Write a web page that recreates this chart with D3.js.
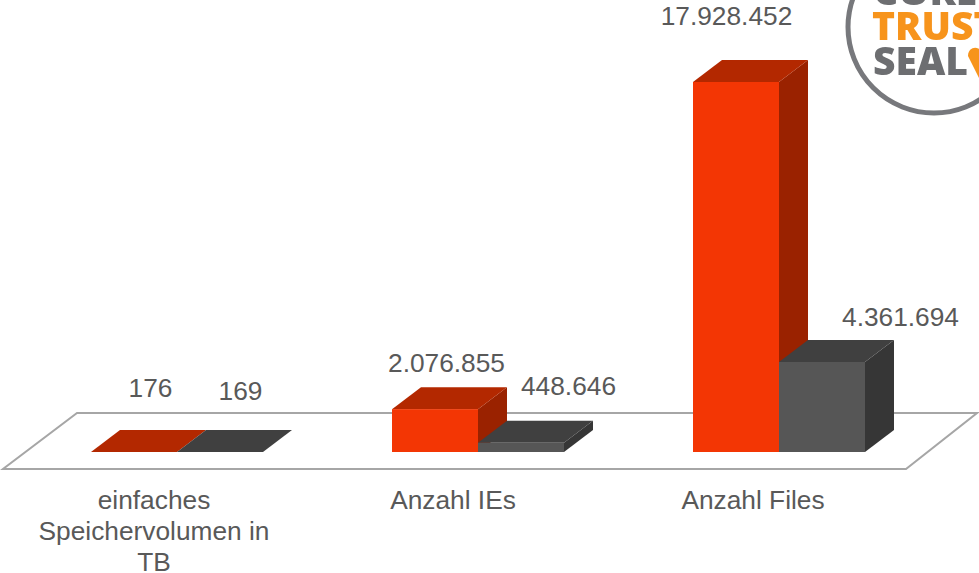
<!DOCTYPE html>
<html>
<head>
<meta charset="utf-8">
<script src="https://cdn.jsdelivr.net/npm/d3@7"></script>
<style>
  html, body { margin: 0; padding: 0; background: #fff; overflow: hidden; }
  text { font-family: "Liberation Sans", Arial, sans-serif; font-size: 26.3px; fill: #595959; }
  .logo text { font-family: "Open Sans", sans-serif; font-weight: 800; font-size: 39px; }
</style>
</head>
<body>
<svg id="plot" width="979" height="573"></svg>
<script>
var categories = ['einfaches Speichervolumen in TB', 'Anzahl IEs', 'Anzahl Files'];
var seriesNames = ['rot', 'grau'];
var rotValues = [176, 2076855, 17928452];
var grauValues = [169, 448646, 4361694];
var rotLabels = ['176', '2.076.855', '17.928.452'];
var grauLabels = ['169', '448.646', '4.361.694'];
var categoryLines = [['einfaches', 'Speichervolumen in', 'TB'], ['Anzahl IEs'], ['Anzahl Files']];

var width = 979, height = 573;
var baseline = 452;
var depthX = 29, depthY = 22;

var colors = {
  rot: { front: '#f33604', top: '#b32800', side: '#9a2200' },
  grau: { front: '#565656', top: '#404040', side: '#363636' }
};

var svg = d3.select('#plot');

var x = d3.scaleBand()
  .domain(categories)
  .range([26.5, 929.5])
  .paddingInner(129 / 301)
  .paddingOuter(129 / 602);

var xInner = d3.scaleBand()
  .domain(seriesNames)
  .range([0, x.bandwidth()]);

var y = d3.scaleLinear()
  .domain([0, 17928452])
  .range([baseline, 82]);

// floor of the 3D chart
svg.append('polygon')
  .attr('points', '3,469 906,469 977,413 77,413')
  .attr('fill', 'none')
  .attr('stroke', '#a6a6a6')
  .attr('stroke-width', 2);

function drawBar(name, values) {
  var g = svg.append('g').attr('class', 'series-' + name);
  var c = colors[name];
  var w = xInner.bandwidth();

  var bars = g.selectAll('g')
    .data(values)
    .enter()
    .append('g');

  // side
  bars.append('path')
    .attr('fill', c.side)
    .attr('d', function (d, i) {
      var x1 = x(categories[i]) + xInner(name) + w;
      return 'M' + x1 + ',' + y(d) + 'L' + (x1 + depthX) + ',' + (y(d) - depthY) +
        'L' + (x1 + depthX) + ',' + (baseline - depthY) + 'L' + x1 + ',' + baseline + 'Z';
    });

  // top
  bars.append('path')
    .attr('fill', c.top)
    .attr('d', function (d, i) {
      var x0 = x(categories[i]) + xInner(name);
      return 'M' + x0 + ',' + y(d) + 'L' + (x0 + depthX) + ',' + (y(d) - depthY) +
        'L' + (x0 + w + depthX) + ',' + (y(d) - depthY) + 'L' + (x0 + w) + ',' + y(d) + 'Z';
    });

  // front
  bars.append('rect')
    .attr('fill', c.front)
    .attr('x', function (d, i) { return x(categories[i]) + xInner(name); })
    .attr('y', function (d) { return y(d); })
    .attr('width', w)
    .attr('height', function (d) { return baseline - y(d); });
}

drawBar('rot', rotValues);
drawBar('grau', grauValues);

// data labels were moved by hand in the original, so each has its own nudge
var rotNudge = [[2, -33], [-3, -15], [-24, -35]];
var grauNudge = [[6, -30], [33, -26], [64, -14]];

function drawLabels(name, values, labels, nudge) {
  svg.selectAll('text.label-' + name)
    .data(values)
    .enter()
    .append('text')
    .attr('class', 'label-' + name)
    .attr('text-anchor', 'middle')
    .attr('x', function (d, i) {
      return x(categories[i]) + xInner(name) + xInner.bandwidth() / 2 + depthX / 2 + nudge[i][0];
    })
    .attr('y', function (d, i) { return y(d) - depthY + nudge[i][1]; })
    .text(function (d, i) { return labels[i]; });
}

drawLabels('rot', rotValues, rotLabels, rotNudge);
drawLabels('grau', grauValues, grauLabels, grauNudge);

// category labels, wrapped as in the original
var categoryNudge = [-23, -25, -26];
categories.forEach(function (cat, i) {
  categoryLines[i].forEach(function (line, j) {
    svg.append('text')
      .attr('text-anchor', 'middle')
      .attr('x', x(cat) + x.bandwidth() / 2 + categoryNudge[i])
      .attr('y', 509 + j * 31)
      .text(line);
  });
});

// seal in the top right corner, cut off by the page edge
svg.append('filter').attr('id', 'soft')
  .append('feGaussianBlur').attr('stdDeviation', 0.6);

var logo = svg.append('g').attr('class', 'logo').attr('filter', 'url(#soft)');
logo.append('circle')
  .attr('cx', 934).attr('cy', 27).attr('r', 86)
  .attr('fill', 'none').attr('stroke', '#77787b').attr('stroke-width', 5);
logo.append('text').attr('x', 873).attr('y', 5).style('fill', '#6d6e71').text('CORE');
logo.append('text').attr('x', 872).attr('y', 40).style('fill', '#f7941d').text('TRUST');
logo.append('text').attr('x', 873).attr('y', 75).style('fill', '#6d6e71').text('SEAL');
logo.append('path')
  .attr('d', 'M968,56 C968,47 978,45 982,52 L982,78 L979,78 Z')
  .attr('fill', '#f7941d');
</script>
</body>
</html>
